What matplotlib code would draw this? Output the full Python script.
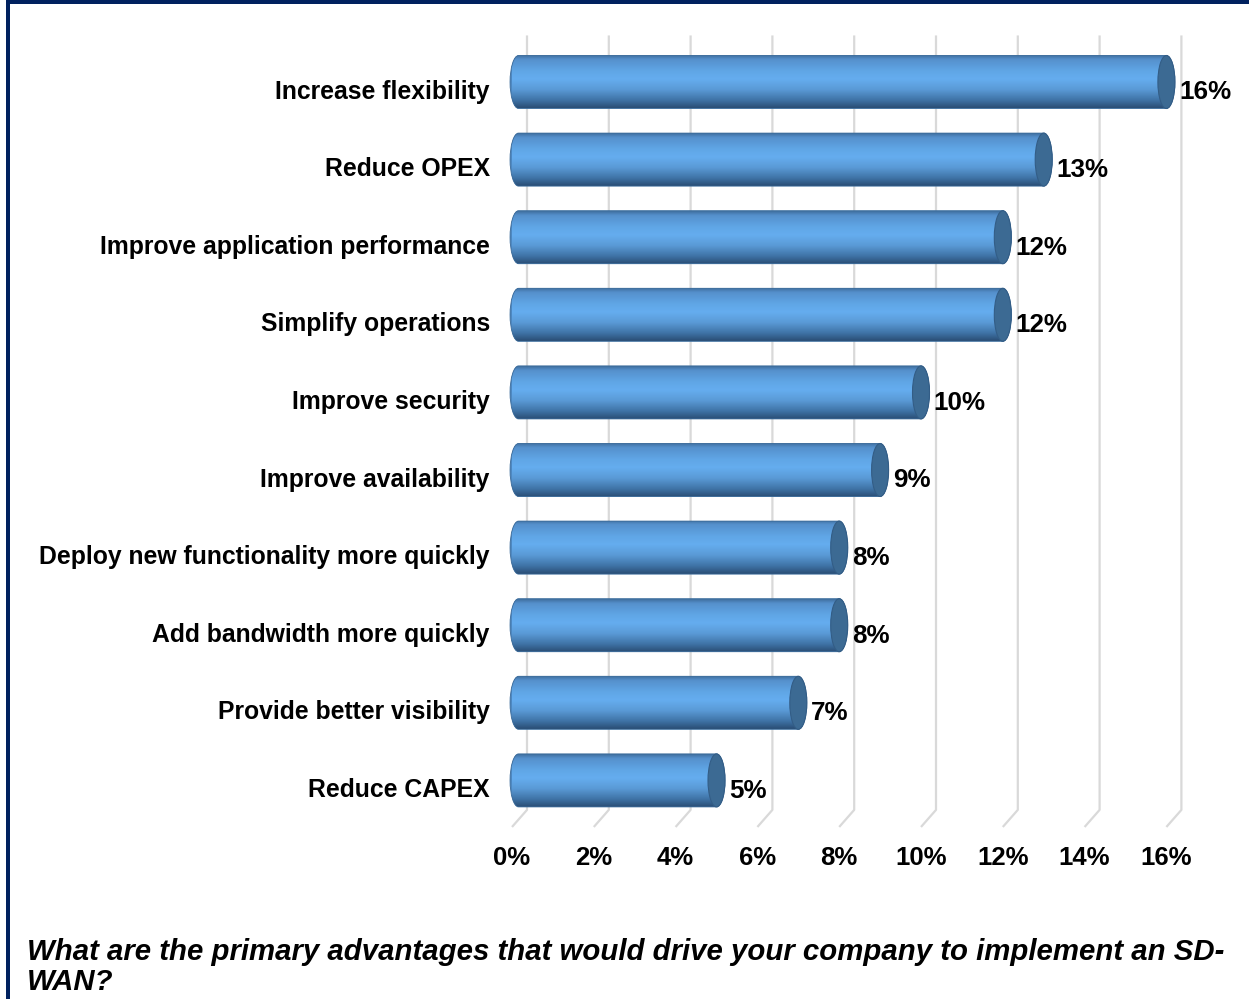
import numpy as np
import matplotlib
matplotlib.use("Agg")
from matplotlib import pyplot as plt
from matplotlib.patches import Ellipse, PathPatch, Rectangle
from matplotlib.path import Path
from matplotlib.colors import LinearSegmentedColormap
from matplotlib.transforms import ScaledTranslation

# survey answers, top to bottom
categories = [
    "Increase flexibility",
    "Reduce OPEX",
    "Improve application performance",
    "Simplify operations",
    "Improve security",
    "Improve availability",
    "Deploy new functionality more quickly",
    "Add bandwidth more quickly",
    "Provide better visibility",
    "Reduce CAPEX",
]
shares = [16, 13, 12, 12, 10, 9, 8, 8, 7, 5]
xticks = [0, 2, 4, 6, 8, 10, 12, 14, 16]
question = ("What are the primary advantages that would drive your company to implement an SD-\n"
            "WAN?")

plt.rcParams["font.family"] = ["Liberation Sans", "DejaVu Sans"]
plt.rcParams["font.weight"] = "bold"

W, H, DPI = 1249, 999, 100
fig = plt.figure(figsize=(W / DPI, H / DPI), dpi=DPI)
fig.patch.set_facecolor("white")

# plot area in pixels
px_per_unit = 40.9
left_px, xmax = 512, 16.6
row_px = 77.6
top_px = 82 - row_px / 2
n = len(categories)
ax = fig.add_axes([left_px / W, 1 - (top_px + n * row_px) / H,
                   xmax * px_per_unit / W, n * row_px / H])
ax.set_xlim(0, xmax)
ax.set_ylim(n - 0.5, -0.5)
for s in ax.spines.values():
    s.set_visible(False)
ax.set_facecolor("none")

# 3d-ish back wall gridlines with a little floor slant
depth = 15 / px_per_unit
gy_top, gy_bot, gy_front = -0.6, 9.38, 9.6
for t in xticks:
    ax.plot([t + depth, t + depth, t], [gy_top, gy_bot, gy_front],
            color="#d9d9d9", lw=1.6, zorder=1, clip_on=False, solid_capstyle="butt")

# cylinder bars
hh = 26.5 / row_px          # half height in y units
rx = 8.5 / px_per_unit      # half width of the end ellipse
x_start = 0.16
grad = LinearSegmentedColormap.from_list("cyl", [
    (0.00, "#3f6f9f"), (0.08, "#5590cc"), (0.30, "#60a6e6"),
    (0.45, "#65adef"), (0.65, "#5a9ad6"), (0.85, "#3f73a6"),
    (1.00, "#2a4d74")])
ramp = np.linspace(0, 1, 256).reshape(-1, 1)
k = 0.5523
for i, v in enumerate(shares):
    y0, y1 = i - hh, i + hh
    a, b = x_start, v
    verts = [
        (a, y0), (b, y0),
        (b + rx * k, y0), (b + rx, i - hh * k), (b + rx, i),
        (b + rx, i + hh * k), (b + rx * k, y1), (b, y1),
        (a, y1),
        (a - rx * k, y1), (a - rx, i + hh * k), (a - rx, i),
        (a - rx, i - hh * k), (a - rx * k, y0), (a, y0),
        (a, y0),
    ]
    codes = [Path.MOVETO, Path.LINETO,
             Path.CURVE4, Path.CURVE4, Path.CURVE4,
             Path.CURVE4, Path.CURVE4, Path.CURVE4,
             Path.LINETO,
             Path.CURVE4, Path.CURVE4, Path.CURVE4,
             Path.CURVE4, Path.CURVE4, Path.CURVE4,
             Path.CLOSEPOLY]
    outline = Path(verts, codes)
    # solid base under the gradient so the rounded end has no gaps
    ax.add_patch(PathPatch(outline, facecolor="#4d88c2", edgecolor="none",
                           zorder=2, clip_on=False))
    body = PathPatch(outline, facecolor="none", edgecolor="#3a6a99",
                     lw=0.6, zorder=3, clip_on=False)
    ax.add_patch(body)
    im = ax.imshow(ramp, cmap=grad, aspect="auto", interpolation="bilinear",
                   extent=(a - rx, b + rx, y1, y0), zorder=2.5)
    im.set_clip_path(body)
    cap = Ellipse((b, i), 2 * rx, 2 * hh, facecolor="#3c6a93",
                  edgecolor="#335d86", lw=0.8, zorder=4, clip_on=False)
    ax.add_patch(cap)
    ax.annotate(f"{v}%", (b, i), xytext=(rx * px_per_unit * 0.72 + 3, -7.5),
                textcoords="offset points", ha="left", va="center",
                fontsize=18.7, fontweight="bold", color="black",
                annotation_clip=False, zorder=5)

ax.set_xlim(0, xmax)
ax.set_ylim(n - 0.5, -0.5)
ax.set_yticks(range(n))
ax.set_yticklabels(categories, fontsize=17.8, fontweight="bold")
ax.set_xticks(xticks)
ax.set_xticklabels([f"{t}%" for t in xticks], fontsize=18.5, fontweight="bold")
ax.tick_params(axis="y", length=0, pad=16)
ax.tick_params(axis="x", length=0, pad=19)
# category labels sit a little below the bar centres
shift = ScaledTranslation(0, -7 / DPI, fig.dpi_scale_trans)
for lab in ax.get_yticklabels():
    lab.set_transform(lab.get_transform() + shift)

# question text, two lines
fig.text(27 / W, 1 - 990 / H, question, ha="left", va="baseline",
         fontsize=21.2, fontweight="bold", fontstyle="italic", linespacing=1.08)

# frame strips on the left and top
fig.patches.append(Rectangle((6 / W, 0), 4 / W, 1, transform=fig.transFigure,
                             facecolor="#00215f", edgecolor="none"))
fig.patches.append(Rectangle((6 / W, 1 - 4 / H), 1 - 6 / W, 4 / H,
                             transform=fig.transFigure,
                             facecolor="#00215f", edgecolor="none"))

fig.savefig("out.png", dpi=DPI)
